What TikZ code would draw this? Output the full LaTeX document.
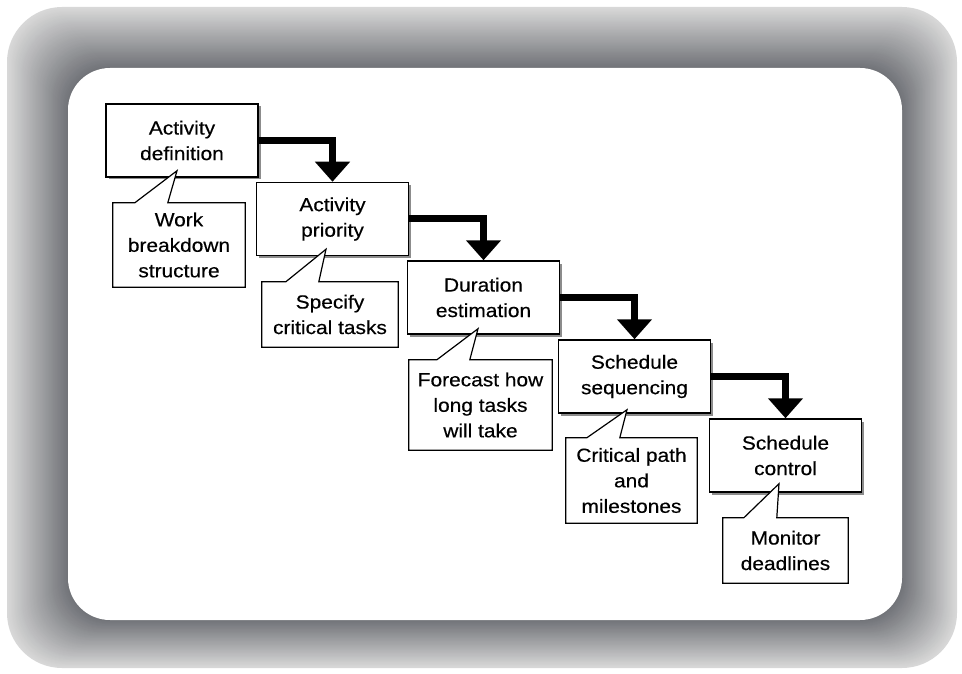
\documentclass[tikz,border=0pt]{standalone}
\usepackage{fontspec}
\setmainfont{Liberation Sans}[FakeStretch=1.1, FakeBold=0.4]
\usetikzlibrary{arrows.meta,calc}

\definecolor{frameinner}{HTML}{707277}
\definecolor{frameouter}{HTML}{D8D8D8}

\tikzset{
  stepbox/.style={draw=black, line width=1.5pt, fill=white, minimum width=152pt,
    minimum height=73pt, inner sep=0pt, align=center,
    font=\fontsize{19}{25.5}\selectfont},
  boxshadow/.style={fill=black!45},
  notebox/.style={inner sep=0pt, align=center,
    font=\fontsize{19}{25.5}\selectfont},
  noteline/.style={draw=black, line width=1.2pt, fill=white, line join=miter},
  flow/.style={line width=7pt, draw=black, line join=miter,
    -{Triangle[width=34pt,length=20pt]}}
}

\begin{document}
\begin{tikzpicture}[x=1pt,y=-1pt]
\useasboundingbox (0,0) rectangle (962,674);

% shaded frame: nested rounded rectangles, light outside, dark inside
\foreach \i in {0,...,60}{
  \pgfmathsetmacro\ft{\i/60}
  \pgfmathsetmacro\xa{7+61*\ft}
  \pgfmathsetmacro\ya{7+61*\ft}
  \pgfmathsetmacro\xb{957-55*\ft}
  \pgfmathsetmacro\yb{668-48*\ft}
  \pgfmathsetmacro\rr{55-13*\ft}
  \pgfmathtruncatemacro\cc{100*\ft}
  \fill[frameinner!\cc!frameouter, rounded corners=\rr pt] (\xa,\ya) rectangle (\xb,\yb);
}
\fill[white, rounded corners=42pt] (68,68) rectangle (902,620);

% step boxes
\foreach \cx/\cy in {182/140.5, 332.5/219, 483.5/297.5, 634.5/376.5, 785.5/455.5}
  \fill[boxshadow] (\cx-76+2.5,\cy-36.5+2.5) rectangle (\cx+76+2.5,\cy+36.5+2.5);

\node[stepbox] (b1) at (182,140.5)   {Activity\\definition};
\node[stepbox] (b2) at (332.5,219)   {Activity\\priority};
\node[stepbox] (b3) at (483.5,297.5) {Duration\\estimation};
\node[stepbox] (b4) at (634.5,376.5) {Schedule\\sequencing};
\node[stepbox] (b5) at (785.5,455.5) {Schedule\\control};

% callout tips inside the boxes
\coordinate (t1) at ($(b1.south)+(-5,-7)$);
\coordinate (t2) at ($(b2.south)+(-6.5,-7)$);
\coordinate (t3) at ($(b3.south)+(-5.5,-6)$);
\coordinate (t4) at ($(b4.south)+(-7.5,-4)$);
\coordinate (t5) at ($(b5.south)+(-6.5,-9)$);

% callout frames (sized placeholders, text is set further down)
\node[minimum width=132pt, minimum height=84pt, inner sep=0pt] (c1) at (179,245) {};
\node[minimum width=136pt, minimum height=65pt, inner sep=0pt] (c2) at (330,314.5) {};
\node[minimum width=143pt, minimum height=90pt, inner sep=0pt] (c3) at (480.5,405) {};
\node[minimum width=131pt, minimum height=85pt, inner sep=0pt] (c4) at (631.5,480.5) {};
\node[minimum width=125pt, minimum height=65pt, inner sep=0pt] (c5) at (785.5,550.5) {};

% callout outlines with pointers
\foreach \c/\t/\o in {c1/t1/22, c2/t2/24, c3/t3/28, c4/t4/21, c5/t5/21}{
  \draw[noteline] (\c.north west) -- ($(\c.north west)+(\o,0)$) -- (\t)
    -- ($(\c.north west)+(\o+33,0)$) -- (\c.north east) -- (\c.south east)
    -- (\c.south west) -- cycle;
}
% callout texts
\node[notebox] (n1) at (c1) {Work\\breakdown\\structure};
\node[notebox] (n2) at (c2) {Specify\\critical tasks};
\node[notebox] (n3) at (c3) {Forecast how\\long tasks\\will take};
\node[notebox] (n4) at (c4) {Critical path\\and\\milestones};
\node[notebox] (n5) at (c5) {Monitor\\deadlines};

% flow arrows
\draw[flow] (b1.east) -| (b2.north);
\draw[flow] (b2.east) -| (b3.north);
\draw[flow] (b3.east) -| (b4.north);
\draw[flow] (b4.east) -| (b5.north);
\end{tikzpicture}
\end{document}
